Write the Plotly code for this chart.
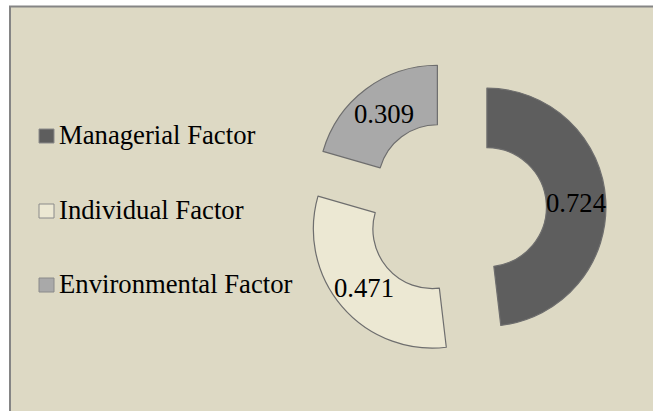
import math
import plotly.graph_objects as go

labels = ["Managerial Factor", "Individual Factor", "Environmental Factor"]
values = [0.724, 0.471, 0.309]
colors = ["#5e5e5e", "#ece8d3", "#a9a9a9"]

W, H = 653, 411

def px(x):
    return x / W

def py(y):
    return 1 - y / H

# pie geometry (pixels)
dom_x = (306, 606)
dom_y = (59, 359)
hole = 0.5
pull = 0.26

fig = go.Figure()
fig.add_trace(go.Pie(
    labels=labels,
    values=values,
    sort=False,
    direction="clockwise",
    rotation=0,
    hole=hole,
    pull=[pull] * len(values),
    marker=dict(colors=colors, line=dict(color="#6e6e6e", width=1.2)),
    textinfo="none",
    domain=dict(x=[px(dom_x[0]), px(dom_x[1])], y=[py(dom_y[1]), py(dom_y[0])]),
    showlegend=False,
    hoverinfo="label+value",
))

# value labels placed at mid-ring of each (pulled) slice, derived from the data
cx = (dom_x[0] + dom_x[1]) / 2
cy = (dom_y[0] + dom_y[1]) / 2
r = min(dom_x[1] - dom_x[0], dom_y[1] - dom_y[0]) / (2 + 2 * pull)
total = sum(values)
annotations = []
acc = 0.0
for v in values:
    mid = (acc + v / 2) / total * 2 * math.pi
    acc += v
    sx, sy = math.sin(mid), -math.cos(mid)
    rr = r * pull + r * (1 + hole) / 2
    annotations.append(dict(x=px(cx + rr * sx), y=py(cy + rr * sy + 1), xref="paper", yref="paper",
                            text=f"{v:.3f}", showarrow=False, xanchor="center", yanchor="middle",
                            font=dict(family="Liberation Serif", size=26.7, color="#000000")))

shapes = [
    dict(type="rect", xref="paper", yref="paper",
         x0=px(10), x1=1.02, y0=-0.02, y1=py(6.5),
         fillcolor="#ddd9c4", line=dict(color="#858585", width=2), layer="below"),
]
legend_y = [136, 211, 285]
for lab, col, yc in zip(labels, colors, legend_y):
    shapes.append(dict(type="rect", xref="paper", yref="paper",
                       x0=px(39), x1=px(54), y0=py(yc + 7), y1=py(yc - 7),
                       fillcolor=col, line=dict(color="#8a8a8a", width=1)))
    annotations.append(dict(x=px(57), y=py(yc - 1), xref="paper", yref="paper",
                            text=lab, showarrow=False, xanchor="left", yanchor="middle",
                            font=dict(family="Liberation Serif", size=26.7, color="#000000")))

fig.update_layout(
    width=W, height=H,
    margin=dict(l=0, r=0, t=0, b=0),
    paper_bgcolor="#ffffff",
    plot_bgcolor="#ffffff",
    shapes=shapes,
    annotations=annotations,
)

fig.write_html("out.html", config={"displayModeBar": False},
               post_script="document.body.style.margin='0';")
